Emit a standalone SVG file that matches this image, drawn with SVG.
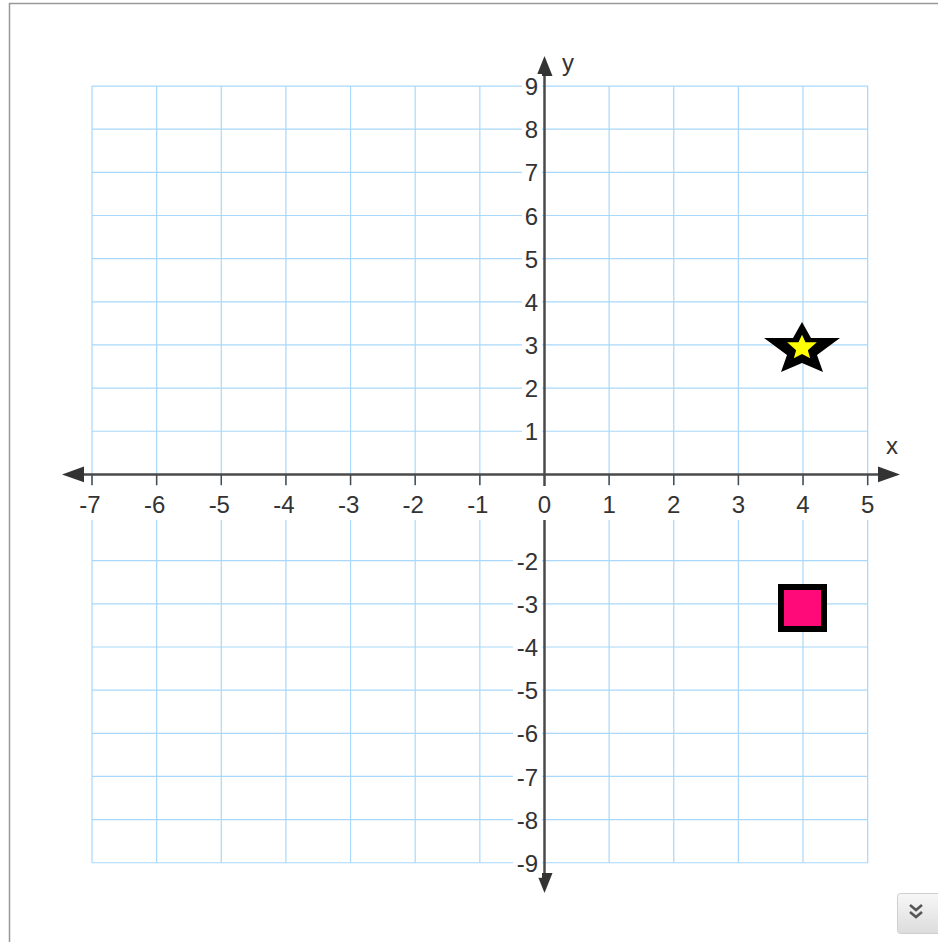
<svg xmlns="http://www.w3.org/2000/svg" width="938" height="942" viewBox="0 0 938 942">
<style>
.grid line{stroke:#a9d8fa;stroke-width:1.2}
.axis{stroke:#4a4a4a;stroke-width:2.5}
.tick{stroke:#4a4a4a;stroke-width:1.5}
.lbl{font-family:"Liberation Sans",Arial,sans-serif;font-size:24px;fill:#333}
.xl{text-anchor:middle}
.yl{text-anchor:end}
.bg rect{fill:#fff}
</style>
<defs>
<polygon id="star" points="0,-24 9,-8 38,-8 15,9 21,26 0,17 -21,26 -15,9 -38,-8 -9,-8"/>
<linearGradient id="btn" x1="0" y1="0" x2="0" y2="1"><stop offset="0" stop-color="#f7f7f7"/><stop offset="1" stop-color="#dcdcdc"/></linearGradient>
</defs>
<rect x="0" y="0" width="938" height="942" fill="#fff"/>
<rect x="9.5" y="3.5" width="940" height="945" fill="none" stroke="#999" stroke-width="1.5"/>
<g class="grid">
<line x1="92" y1="86" x2="92" y2="863"/>
<line x1="156.64" y1="86" x2="156.64" y2="863"/>
<line x1="221.28" y1="86" x2="221.28" y2="863"/>
<line x1="285.92" y1="86" x2="285.92" y2="863"/>
<line x1="350.56" y1="86" x2="350.56" y2="863"/>
<line x1="415.2" y1="86" x2="415.2" y2="863"/>
<line x1="479.84" y1="86" x2="479.84" y2="863"/>
<line x1="609.12" y1="86" x2="609.12" y2="863"/>
<line x1="673.76" y1="86" x2="673.76" y2="863"/>
<line x1="738.4" y1="86" x2="738.4" y2="863"/>
<line x1="803.04" y1="86" x2="803.04" y2="863"/>
<line x1="867.68" y1="86" x2="867.68" y2="863"/>
<line x1="92" y1="86.05" x2="868" y2="86.05"/>
<line x1="92" y1="129.2" x2="868" y2="129.2"/>
<line x1="92" y1="172.35" x2="868" y2="172.35"/>
<line x1="92" y1="215.5" x2="868" y2="215.5"/>
<line x1="92" y1="258.65" x2="868" y2="258.65"/>
<line x1="92" y1="301.8" x2="868" y2="301.8"/>
<line x1="92" y1="344.95" x2="868" y2="344.95"/>
<line x1="92" y1="388.1" x2="868" y2="388.1"/>
<line x1="92" y1="431.25" x2="868" y2="431.25"/>
<line x1="92" y1="560.7" x2="868" y2="560.7"/>
<line x1="92" y1="603.85" x2="868" y2="603.85"/>
<line x1="92" y1="647" x2="868" y2="647"/>
<line x1="92" y1="690.15" x2="868" y2="690.15"/>
<line x1="92" y1="733.3" x2="868" y2="733.3"/>
<line x1="92" y1="776.45" x2="868" y2="776.45"/>
<line x1="92" y1="819.6" x2="868" y2="819.6"/>
<line x1="92" y1="862.75" x2="868" y2="862.75"/>
</g>
<g id="axes">
<line class="axis" x1="80" y1="474.4" x2="882" y2="474.4"/>
<line class="axis" x1="544.5" y1="73" x2="544.5" y2="875"/>
<polygon points="62,474.4 84,466.5 84,482.3" fill="#333"/>
<polygon points="900,474.4 878,466.5 878,482.3" fill="#333"/>
<polygon points="544.5,56 536.5,76 552.5,76" fill="#333"/>
<polygon points="544.5,893 536.5,873 552.5,873" fill="#333"/>
<g class="tick">
<line x1="92" y1="474" x2="92" y2="485"/>
<line x1="156.64" y1="474" x2="156.64" y2="485"/>
<line x1="221.28" y1="474" x2="221.28" y2="485"/>
<line x1="285.92" y1="474" x2="285.92" y2="485"/>
<line x1="350.56" y1="474" x2="350.56" y2="485"/>
<line x1="415.2" y1="474" x2="415.2" y2="485"/>
<line x1="479.84" y1="474" x2="479.84" y2="485"/>
<line x1="609.12" y1="474" x2="609.12" y2="485"/>
<line x1="673.76" y1="474" x2="673.76" y2="485"/>
<line x1="738.4" y1="474" x2="738.4" y2="485"/>
<line x1="803.04" y1="474" x2="803.04" y2="485"/>
<line x1="867.68" y1="474" x2="867.68" y2="485"/>
</g>
<text class="lbl" x="892" y="454" text-anchor="middle">x</text>
<text class="lbl" x="568" y="71" text-anchor="middle">y</text>
</g>
<g class="bg">
<rect x="76" y="486" width="806" height="34"/>
<rect x="522" y="74" width="20" height="27"/>
<rect x="522" y="117.2" width="20" height="27"/>
<rect x="522" y="160.4" width="20" height="27"/>
<rect x="522" y="203.5" width="20" height="27"/>
<rect x="522" y="246.7" width="20" height="27"/>
<rect x="522" y="289.8" width="20" height="27"/>
<rect x="522" y="333" width="20" height="27"/>
<rect x="522" y="376.1" width="20" height="27"/>
<rect x="522" y="419.3" width="20" height="27"/>
<rect x="513" y="548.7" width="29" height="27"/>
<rect x="513" y="591.9" width="29" height="27"/>
<rect x="513" y="635" width="29" height="27"/>
<rect x="513" y="678.2" width="29" height="27"/>
<rect x="513" y="721.3" width="29" height="27"/>
<rect x="513" y="764.5" width="29" height="27"/>
<rect x="513" y="807.6" width="29" height="27"/>
<rect x="513" y="850.8" width="29" height="27"/>
</g>
<g id="xlabels" class="lbl xl">
<text x="90" y="513">-7</text>
<text x="154.6" y="513">-6</text>
<text x="219.3" y="513">-5</text>
<text x="283.9" y="513">-4</text>
<text x="348.6" y="513">-3</text>
<text x="413.2" y="513">-2</text>
<text x="477.8" y="513">-1</text>
<text x="544.5" y="513">0</text>
<text x="609.1" y="513">1</text>
<text x="673.8" y="513">2</text>
<text x="738.4" y="513">3</text>
<text x="803" y="513">4</text>
<text x="867.7" y="513">5</text>
</g>
<g id="ylabels" class="lbl yl">
<text x="538" y="95">9</text>
<text x="538" y="138.2">8</text>
<text x="538" y="181.4">7</text>
<text x="538" y="224.5">6</text>
<text x="538" y="267.7">5</text>
<text x="538" y="310.8">4</text>
<text x="538" y="354">3</text>
<text x="538" y="397.1">2</text>
<text x="538" y="440.3">1</text>
<text x="538" y="569.7">-2</text>
<text x="538" y="612.9">-3</text>
<text x="538" y="656">-4</text>
<text x="538" y="699.2">-5</text>
<text x="538" y="742.3">-6</text>
<text x="538" y="785.5">-7</text>
<text x="538" y="828.6">-8</text>
<text x="538" y="871.8">-9</text>
</g>
<g id="star-node">
<use href="#star" transform="translate(802 346)" fill="#000"/>
<use href="#star" transform="translate(802 346) scale(0.39 0.47)" fill="#ffff00"/>
</g>
<g id="square-node">
<rect x="781" y="587" width="43" height="42" fill="#ff0a78" stroke="#000" stroke-width="6"/>
</g>
<g id="button">
<rect x="897.5" y="893.5" width="46" height="40" rx="3" fill="url(#btn)" stroke="#cfcfcf"/>
<path d="M910,905 l6,5 l6,-5 M910,912 l6,5 l6,-5" fill="none" stroke="#555" stroke-width="2.5"/>
</g>
</svg>
